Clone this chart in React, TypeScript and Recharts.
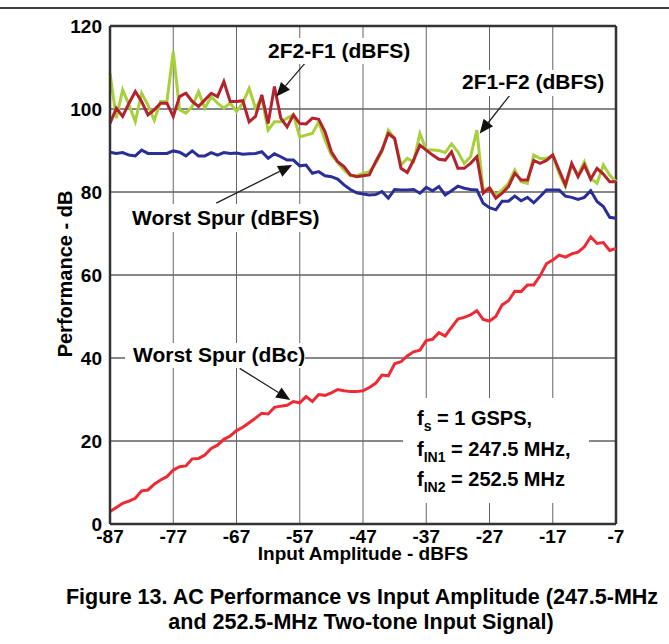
import React from 'react'
import { LineChart, Line, XAxis, YAxis, CartesianGrid, ReferenceLine } from 'recharts'

// input amplitude, dBFS (one point per dB)
const amplitude = [
  -87, -86, -85, -84, -83, -82, -81, -80, -79, -78,
  -77, -76, -75, -74, -73, -72, -71, -70, -69, -68,
  -67, -66, -65, -64, -63, -62, -61, -60, -59, -58,
  -57, -56, -55, -54, -53, -52, -51, -50, -49, -48,
  -47, -46, -45, -44, -43, -42, -41, -40, -39, -38,
  -37, -36, -35, -34, -33, -32, -31, -30, -29, -28,
  -27, -26, -25, -24, -23, -22, -21, -20, -19, -18,
  -17, -16, -15, -14, -13, -12, -11, -10, -9, -8, -7,
]

const im2f1f2 = [
  108.6, 97.8, 104.6, 101, 97, 103.8, 101, 97.3, 101.8, 101.8,
  113.8, 99.8, 99, 100.6, 104.2, 100.2, 103, 101.4, 100.2, 101.4,
  99.4, 101.4, 105, 100.2, 102.6, 94.9, 96.9, 96.9, 97.8, 98.6,
  93.3, 93.7, 94.1, 96.9, 92.5, 88.9, 87.1, 85.3, 83.9, 83.9,
  84.5, 84.9, 86.9, 89.7, 94.9, 92.9, 86.5, 88.1, 87.3, 94.1,
  90.1, 90.1, 90, 89.5, 91.6, 89.7, 86.9, 88.5, 94.9, 80.5,
  80.9, 79.3, 80.5, 82.1, 85.3, 82.5, 82.1, 88.9, 88.1, 88.1,
  88.9, 84.5, 81.3, 86.5, 84.1, 87.3, 83.3, 82.1, 86.5, 84.1, 82.5,
]

const im2f2f1 = [
  96.5, 100.2, 98.2, 101.4, 104.2, 101.8, 98.6, 99.8, 101.4, 101.4,
  98.2, 103, 103.8, 101.8, 100.6, 102.2, 103.8, 103, 106.6, 101.8,
  101.8, 102, 96.9, 98.2, 103.4, 96.5, 105.4, 97.8, 95.7, 98.6,
  96.5, 96.4, 97.8, 97.5, 94.5, 89.7, 87.3, 86.1, 84.1, 83.7,
  83.9, 84.1, 87.3, 90.1, 94.1, 92.9, 85.7, 84.7, 87.7, 91.3,
  90.1, 88.9, 87.9, 87.7, 89.7, 85.7, 85.7, 86.9, 88.5, 79.7,
  81, 78.5, 79.7, 81.3, 84.5, 82.9, 82.9, 87.6, 86.9, 87.6,
  88.9, 85.3, 81.7, 86.9, 83.7, 86.5, 83.1, 85.7, 84.3, 82.5, 82.5,
]

const worstSpurDbfs = [
  89.6, 89.3, 89.5, 88.9, 88.7, 90.1, 89.3, 89.3, 89.3, 89.3,
  89.9, 89.6, 88.7, 89.9, 88.7, 88.7, 89.5, 88.9, 89.5, 89.3,
  89.4, 89.1, 89.2, 89.3, 89.7, 88.1, 89.2, 88.5, 87.7, 87.7,
  86.3, 86.5, 84.5, 84.9, 83.9, 83.7, 83.1, 81.7, 80.6, 79.8,
  79.5, 79.3, 79.4, 80.1, 78.5, 80.6, 80.5, 80.5, 80.6, 79.7,
  81.1, 80.3, 81.3, 79.3, 80.3, 81.4, 80.9, 80.6, 80.5, 77.3,
  76.2, 75.7, 77.8, 77.8, 79, 77.9, 78.7, 77.4, 78.9, 80.5,
  80.5, 80.5, 79, 78.7, 78.2, 78.7, 80.3, 77.7, 76.5, 73.9, 73.7,
]

const worstSpurDbc = [
  3, 4, 5, 5.5, 6.2, 8, 8.2, 9.6, 10.6, 11.4,
  13, 13.8, 14, 15.7, 15.8, 16.6, 18.2, 19, 20.4, 21.2,
  22.5, 23.3, 24.4, 25.5, 26.7, 26.5, 28.1, 28.4, 28.6, 29.5,
  29.2, 30.7, 29.5, 31.2, 31, 31.6, 32.4, 32.1, 31.9, 31.9,
  32.1, 32.9, 33.9, 35.9, 35.7, 38.6, 39.1, 40.5, 41.5, 41.9,
  44.2, 44.5, 46.1, 45.3, 47.4, 49.4, 49.8, 50.4, 51.4, 49.3,
  48.9, 50, 52.8, 53.8, 56.1, 56, 57.6, 57.6, 59.8, 62.7,
  63.6, 64.8, 64.3, 65.1, 65.5, 66.8, 69.2, 67.6, 67.8, 65.9, 66.4,
]

const xTicks = [-87, -77, -67, -57, -47, -37, -27, -17, -7]
const yTicks = [0, 20, 40, 60, 80, 100, 120]

const rows = amplitude.map((x, i) => ({
  x,
  a: im2f1f2[i],
  b: im2f2f1[i],
  c: worstSpurDbfs[i],
  d: worstSpurDbc[i],
}))

const FONT = "'Liberation Sans', Arial, Helvetica, sans-serif"
const tickStyle = { fontFamily: FONT, fontWeight: 700, fontSize: 19, fill: '#000' }

const Arrow = (props: any) => {
  const { x1, y1, x2, y2 } = props
  const ang = Math.atan2(y2 - y1, x2 - x1)
  const len = 14
  const half = 6
  const bx = x2 - len * Math.cos(ang)
  const by = y2 - len * Math.sin(ang)
  const px = -Math.sin(ang) * half
  const py = Math.cos(ang) * half
  return (
    <g>
      <line x1={x1} y1={y1} x2={bx} y2={by} stroke="#222" strokeWidth={1.3} />
      <polygon points={`${x2},${y2} ${bx + px},${by + py} ${bx - px},${by - py}`} fill="#111" />
    </g>
  )
}

export default function App() {
  return (
    <div style={{ position: 'fixed', left: 0, top: 0, width: 669, height: 644, background: '#fff' }}>
      <div style={{ position: 'absolute', left: 0, top: 0 }}>
        <LineChart width={669} height={570} data={rows} margin={{ top: 26, right: 53, left: 50, bottom: 16 }}>
          <CartesianGrid vertical={false} stroke="#111" strokeWidth={1} />
          <CartesianGrid horizontal={false} stroke="#666" strokeWidth={1} />
          <XAxis
            dataKey="x"
            type="number"
            domain={[-87, -7]}
            ticks={xTicks}
            tickLine={false}
            tickMargin={0}
            axisLine={{ stroke: '#333', strokeWidth: 2.5 }}
            tick={tickStyle}
            height={30}
            interval={0}
          />
          <YAxis
            type="number"
            domain={[0, 120]}
            ticks={yTicks}
            tickLine={false}
            axisLine={{ stroke: '#333', strokeWidth: 2.5 }}
            tick={tickStyle}
            width={60}
            interval={0}
          />
          <ReferenceLine y={120} stroke="#333" strokeWidth={2.5} />
          <ReferenceLine x={-7} stroke="#333" strokeWidth={2.5} />
          <Line dataKey="a" stroke="#a8cf3c" strokeWidth={3} dot={false} isAnimationActive={false} />
          <Line dataKey="b" stroke="#b3232e" strokeWidth={3} dot={false} isAnimationActive={false} />
          <Line dataKey="c" stroke="#2a2f96" strokeWidth={3} dot={false} isAnimationActive={false} />
          <Line dataKey="d" stroke="#ee2a35" strokeWidth={3} dot={false} isAnimationActive={false} />
          <ReferenceLine segment={[{ x: -55.95, y: 111.4 }, { x: -60.7, y: 103 }]} shape={Arrow} />
          <ReferenceLine segment={[{ x: -23.8, y: 103.3 }, { x: -28.55, y: 94.1 }]} shape={Arrow} />
          <ReferenceLine segment={[{ x: -70.2, y: 77.3 }, { x: -58.2, y: 86.5 }]} shape={Arrow} />
          <ReferenceLine segment={[{ x: -66.5, y: 37.5 }, { x: -58.5, y: 29.9 }]} shape={Arrow} />
        </LineChart>
      </div>
      <svg
        width={669}
        height={644}
        style={{ position: 'absolute', left: 0, top: 0, pointerEvents: 'none' }}
        fontFamily={FONT}
        fontWeight={700}
      >
        <line x1={0} y1={8} x2={669} y2={8} stroke="#000" strokeWidth={1.5} />
        <rect x={264} y={38} width={158} height={26} fill="#fff" />
        <rect x={458} y={70} width={147} height={26} fill="#fff" />
        <rect x={127} y={204} width={195} height={28} fill="#fff" />
        <rect x={125} y={343} width={180} height={25} fill="#fff" />
        <rect x={403} y={398} width={186} height={105} fill="#fff" />
        <text x={268} y={58} fontSize={21}>2F2-F1 (dBFS)</text>
        <text x={462} y={89} fontSize={21}>2F1-F2 (dBFS)</text>
        <text x={132} y={225} fontSize={21}>Worst Spur (dBFS)</text>
        <text x={133} y={362} fontSize={21}>Worst Spur (dBc)</text>
        <text x={417} y={425} fontSize={20}>
          <tspan>f</tspan>
          <tspan fontSize={14} dy={6}>s</tspan>
          <tspan dy={-6}> = 1 GSPS,</tspan>
        </text>
        <text x={417} y={456} fontSize={20}>
          <tspan>f</tspan>
          <tspan fontSize={14} dy={6}>IN1</tspan>
          <tspan dy={-6}> = 247.5 MHz,</tspan>
        </text>
        <text x={417} y={486} fontSize={20}>
          <tspan>f</tspan>
          <tspan fontSize={14} dy={6}>IN2</tspan>
          <tspan dy={-6}> = 252.5 MHz</tspan>
        </text>
        <text x={363} y={560} fontSize={19} textAnchor="middle">Input Amplitude - dBFS</text>
        <text x={0} y={0} fontSize={20} textAnchor="middle" transform="translate(72 274) rotate(-90)">
          Performance - dB
        </text>
        <text x={362} y={604} fontSize={21.5} textAnchor="middle">
          Figure 13. AC Performance vs Input Amplitude (247.5-MHz
        </text>
        <text x={361} y={629} fontSize={21.5} textAnchor="middle">
          and 252.5-MHz Two-tone Input Signal)
        </text>
      </svg>
    </div>
  )
}
